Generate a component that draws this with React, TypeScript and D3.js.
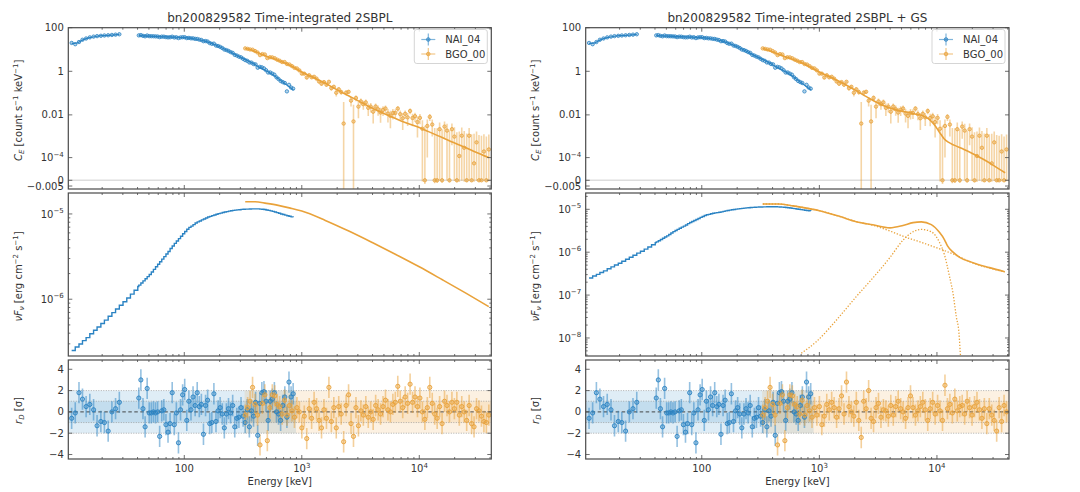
import React from "react";
import * as d3 from "d3";

// ---------------- data ----------------
const X_DOMAIN: [number, number] = [10.3, 41000];
const NAI_RANGE: [number, number] = [10.3, 893];
const BGO_RANGE: [number, number] = [326, 41000];

// NaI channel energies (keV)
const NAI_E_LOW = [11.0, 11.8, 12.7, 13.6, 14.6, 15.7, 16.9, 18.1, 19.5, 20.9, 22.5, 24.2, 26.0, 28.0];
const NAI_GAP_E = [30.1, 32.4, 34.8, 37.4, 40.2];
const NAI_E_HIGH = [41.0, 42.7, 44.5, 46.4, 48.3, 50.3, 52.4, 54.6, 56.9, 59.3, 61.7, 64.3, 67.0, 69.8, 72.7, 75.7, 78.9, 82.2, 85.6, 89.2, 92.9, 96.8, 100.8, 105.0, 109.4, 114.0, 118.7, 123.7, 128.8, 134.2, 139.8, 145.6, 151.7, 158.0, 164.6, 171.5, 178.6, 186.1, 193.8, 201.9, 210.4, 219.1, 228.3, 237.8, 247.7, 258.1, 268.8, 280.0, 291.7, 303.9, 316.6, 329.8, 343.5, 357.9, 372.8, 388.3, 404.5, 421.4, 439.0, 457.3, 476.4, 496.3, 517.0, 538.5, 561.0, 584.4, 608.8, 634.1, 660.6, 688.2, 716.9, 746.8, 777.9, 810.4, 844.2];

// NaI count rates (count s^-1 keV^-1)
const NAI_COUNTS_LOW = [20, 17.5, 22, 28, 32, 36, 39, 41, 42.5, 44, 45, 46.5, 48, 50];
const NAI_COUNTS_HIGH = [44.4, 45.7, 42.3, 40.3, 43.8, 40.9, 40.7, 40.5, 39.9, 39.5, 37.0, 38.9, 38.7, 36.9, 36.0, 36.5, 38.7, 35.7, 36.4, 33.4, 35.8, 36.6, 36.6, 33.3, 34.0, 32.5, 32.5, 30.8, 30.5, 28.4, 27.3, 24.0, 24.4, 23.2, 19.7, 18.2, 18.6, 15.2, 14.5, 13.2, 11.7, 10.0, 9.4, 8.6, 7.6, 7.0, 5.66, 5.27, 4.7, 4.37, 3.74, 3.26, 3.02, 2.55, 2.51, 2.16, 2.07, 1.46, 1.6, 1.52, 1.36, 1.12, 0.88, 0.88, 0.78, 0.7, 0.53, 0.44, 0.36, 0.32, 0.29, 0.12, 0.24, 0.18, 0.16];

// NaI residuals (sigma), shared by both fits
const NAI_RESID_LOW = [-0.6, -0.1, 1.8, 1.2, 0.5, 0.7, 0.2, -1.3, -0.9, -1.0, -1.8, 0.0, 0.3, 0.9];
const NAI_RESID_HIGH = [1.3, 3.0, 0.3, -1.4, 2.2, -0.1, -0.1, 0.0, -0.1, 0.0, -2.3, 0.1, 0.2, -1.2, -1.9, -1.1, 1.8, -1.2, -0.1, -2.9, 0.2, 1.6, 2.1, -0.8, 1.0, 0.2, 1.4, 0.6, 1.8, 0.5, 0.7, -2.1, 0.6, 1.1, -1.1, -1.0, 1.7, -0.9, 0.1, 0.4, -0.2, -1.5, -0.2, 0.3, -0.1, 0.6, -1.4, -0.6, -0.5, 0.4, -0.4, -1.0, 0.2, -1.4, 0.1, -0.4, 0.9, -2.2, 0.8, 1.8, 1.9, 1.0, -0.8, 1.0, 1.2, 1.8, 0.0, -0.2, -0.8, 0.6, 1.4, -0.5, 2.8, 1.4, 1.7];

// NaI folded model count rates
const NAI_MODEL_E_LOW = [11, 12, 13.6, 15.7, 18.1, 20.9, 24.2, 28];
const NAI_MODEL_C_LOW = [19, 19.5, 27, 35, 40.5, 43.5, 46, 49.5];
const NAI_MODEL_E_HIGH = [41, 50, 60, 80, 100, 120, 150, 200, 250, 300, 365, 450, 520, 600, 700, 850];
const NAI_MODEL_C_HIGH = [43, 41, 39.3, 37, 34.8, 31.2, 24.2, 13.3, 7.4, 4.45, 2.67, 1.4, 0.92, 0.56, 0.3, 0.14];

// BGO channel energies (keV)
const BGO_E = [330, 346, 363, 381, 400, 420, 441, 462, 485, 509, 535, 561, 589, 618, 648, 680, 714, 749, 786, 825, 866, 909, 953, 1001, 1050, 1102, 1156, 1213, 1273, 1336, 1402, 1472, 1544, 1621, 1701, 1785, 1873, 1965, 2062, 2164, 2271, 2383, 2501, 2625, 2754, 2890, 3033, 3183, 3340, 3505, 3678, 3860, 4051, 4251, 4461, 4681, 4913, 5155, 5410, 5677, 5958, 6252, 6561, 6885, 7225, 7582, 7956, 8350, 8762, 9195, 9649, 10126, 10626, 11151, 11702, 12280, 12886, 13523, 14191, 14892, 15628, 16400, 17210, 18060, 18952, 19888, 20871, 21902, 22984, 24119, 25311, 26561, 27873, 29250, 30695, 32212, 33803, 35473, 37225, 39064];
const BGO_COUNTS = [11.25, 10.7, 10.05, 9.77, 8.48, 7.29, 5.52, 6.16, 5.9, 4.02, 4.41, 4.35, 3.95, 3.4, 3.05, 2.66, 2.65, 2.15, 2.04, 1.73, 1.44, 1.35, 1.1, 0.78, 0.78, 0.52, 0.66, 0.53, 0.56, 0.46, 0.34, 0.27, 0.32, 0.243, 0.33, 0.169, 0.195, 0.104, 0.15, 0.112, 0.004, 0.105, 0.115, 0.045, 0.005, 0.06, 0.024, 0.0415, 0.031, 0.0375, 0.021, 0.024, 0.014, 0.0242, 0.0181, 0.0128, 0.017, 0.0196, 0.0115, 0.009, 0.0123, 0.0123, 0.0195, 0.0108, 0.007, 0.0112, 0.0077, 0.0151, 0.0072, 0.0087, 0.0047, 0.0073, 0.0023, 0, 0.0031, 0.0081, 0.0036, 0, 0, 0.0022, 0, 0.0029, 0.0019, 0, 0.0022, 0.001, 0, 0.00012, 0.0011, 0.0003, 0, 0.0011, 0, 0.00005, 0.00054, 0, 0, 0.0002, 0, 0.00025];
const BGO_COUNT_ERR = [0.5, 0.48, 0.45, 0.42, 0.4, 0.38, 0.35, 0.33, 0.31, 0.29, 0.27, 0.25, 0.23, 0.21, 0.2, 0.19, 0.18, 0.16, 0.15, 0.14, 0.13, 0.12, 0.11, 0.1, 0.09, 0.085, 0.08, 0.075, 0.07, 0.065, 0.06, 0.055, 0.05, 0.045, 0.042, 0.04, 0.037, 0.034, 0.031, 0.029, 0.035, 0.025, 0.023, 0.021, 0.024, 0.018, 0.017, 0.015, 0.014, 0.013, 0.012, 0.011, 0.01, 0.0095, 0.009, 0.0085, 0.008, 0.0075, 0.007, 0.0066, 0.0062, 0.0058, 0.0055, 0.0052, 0.005, 0.0048, 0.0046, 0.0044, 0.0042, 0.004, 0.0038, 0.0036, 0.0034, 0.0032, 0.003, 0.0028, 0.0026, 0.0025, 0.0024, 0.0023, 0.0022, 0.0021, 0.002, 0.0019, 0.0018, 0.0017, 0.0016, 0.0016, 0.0015, 0.0015, 0.0014, 0.0014, 0.0013, 0.0013, 0.0012, 0.0012, 0.0011, 0.0011, 0.001, 0.001];

// BGO residuals for each fit
const BGO_RESID_2SBPL = [-0.3, 0.4, 1.0, 2.3, 0.7, -0.3, -3.1, 0.8, 1.6, -2.7, 0.4, 1.6, 1.5, 0.7, 0.5, -0.2, 1.1, -0.3, 0.6, 0.1, -0.5, 0.4, 0.0, -1.5, -0.4, -2.5, 0.3, -0.6, 0.9, 0.3, -0.8, -1.5, 0.2, -0.6, 2.3, -0.9, 0.4, -1.5, 0.5, -0.2, -2.8, 0.6, 1.6, -1.1, -2.3, 0.4, -1.3, 0.1, -0.3, 0.5, -0.5, 0.0, -0.7, 0.6, 0.2, -0.2, 0.5, 1.1, 0.2, 0.0, 0.7, 0.9, 2.4, 1.0, 0.4, 1.4, 0.8, 2.6, 0.9, 1.4, 0.5, 1.3, 0.0, -0.7, 0.4, 2.3, 0.8, -0.2, -0.6, 0.5, -1.1, 1.0, 0.6, 0.0, 0.9, 0.3, 0.9, -0.3, 0.5, 0.0, -0.8, 0.6, -1.1, -1.4, 0.3, 0.1, -0.4, -0.9, -1.0, -0.3];
const BGO_RESID_GS = [-0.3, 0.4, 1.0, 2.3, 0.7, -0.3, -3.1, 0.8, 1.6, -2.7, 0.4, 1.6, 1.5, 0.7, 0.5, -0.2, 1.1, -0.3, 0.6, 0.1, -0.5, 0.4, -0.3, 0.5, -1.2, -0.4, 0.7, 0.2, 0.9, 0.4, -0.5, 0.3, 1.5, -0.2, 2.8, 0.5, 0.0, -0.4, 0.9, -0.8, -2.4, 1.0, 0.3, 2.0, -0.6, -0.9, 0.4, 0.8, -0.5, 0.2, 0.1, -0.4, 0.6, -0.3, 0.5, 1.0, 0.3, 0.0, -0.6, 0.4, 1.5, 0.4, -0.3, 0.1, 0.5, 0.9, 0.2, -0.8, 0.3, 0.9, -0.2, 0.6, 0.1, -0.8, 2.5, 0.3, 0.7, -0.1, 1.2, 0.1, 0.5, 0.6, -0.2, 1.0, 0.4, -0.3, 0.5, 0.9, 0.2, -0.6, 0.3, -1.1, 0.3, -0.3, -0.8, -1.8, 0.4, -0.9, 0.6, 0.0];

// BGO folded model count rates
const BGO_MODEL_2SBPL_E = [330, 400, 500, 600, 700, 800, 1000, 1200, 1500, 2000, 2500, 3000, 4000, 5000, 6000, 7000, 8000, 10000, 12000, 15000, 20000, 25000, 30000, 39000];
const BGO_MODEL_2SBPL_C = [11.4, 8.2, 4.9, 3.5, 2.55, 1.85, 0.93, 0.58, 0.33, 0.14, 0.075, 0.045, 0.02, 0.0115, 0.0075, 0.0053, 0.004, 0.0026, 0.0017, 0.001, 0.0005, 0.0003, 0.00019, 0.0001];
const BGO_MODEL_GS_E = [330, 500, 700, 1000, 1500, 2000, 2700, 3500, 4500, 5500, 6500, 7500, 8500, 9500, 10500, 11500, 12500, 14000, 17000, 20000, 25000, 30000, 38000];
const BGO_MODEL_GS_C = [11.4, 4.9, 2.55, 0.93, 0.33, 0.14, 0.055, 0.027, 0.017, 0.0135, 0.011, 0.0092, 0.0065, 0.0035, 0.0016, 0.0008, 0.00055, 0.0004, 0.00025, 0.00016, 0.00008, 0.00004, 0.000012];

// nuFnu model spectra (erg cm^-2 s^-1), NaI on channel grid (low + gap + high)
const NAI_NUFNU_2SBPL = [2.51e-7, 2.75e-7, 2.99e-7, 3.27e-7, 3.55e-7, 3.94e-7, 4.32e-7, 4.73e-7, 5.19e-7, 5.69e-7, 6.31e-7, 6.97e-7, 7.67e-7, 8.51e-7,
  9.33e-7, 1.035e-6, 1.148e-6, 1.274e-6, 1.413e-6,
  1.462e-6, 1.549e-6, 1.641e-6, 1.738e-6, 1.841e-6, 1.95e-6, 2.089e-6, 2.239e-6, 2.399e-6, 2.57e-6,
  2.754e-6, 2.951e-6, 3.162e-6, 3.388e-6, 3.631e-6, 3.936e-6, 4.217e-6, 4.519e-6, 4.808e-6, 5.129e-6,
  5.47e-6, 5.848e-6, 6.223e-6, 6.607e-6, 6.95e-6, 7.194e-6, 7.499e-6, 7.816e-6, 8.072e-6, 8.279e-6,
  8.511e-6, 8.73e-6, 8.954e-6, 9.204e-6, 9.376e-6, 9.55e-6, 9.727e-6, 9.908e-6, 1.009e-5, 1.023e-5,
  1.038e-5, 1.052e-5, 1.064e-5, 1.079e-5, 1.091e-5, 1.102e-5, 1.109e-5, 1.117e-5, 1.122e-5, 1.13e-5,
  1.135e-5, 1.138e-5, 1.14e-5, 1.143e-5, 1.146e-5, 1.148e-5, 1.148e-5, 1.146e-5, 1.14e-5, 1.135e-5,
  1.127e-5, 1.114e-5, 1.102e-5, 1.086e-5, 1.072e-5, 1.054e-5, 1.035e-5, 1.019e-5, 1.0e-5, 9.84e-6,
  9.68e-6, 9.53e-6, 9.38e-6, 9.23e-6, 9.12e-6];
const NAI_NUFNU_GS = [2.51e-7, 2.78e-7, 3.04e-7, 3.35e-7, 3.67e-7, 4.11e-7, 4.54e-7, 5.01e-7, 5.54e-7, 6.13e-7, 6.85e-7, 7.64e-7, 8.49e-7, 9.49e-7,
  1.05e-6, 1.18e-6, 1.32e-6, 1.49e-6, 1.67e-6,
  1.738e-6, 1.854e-6, 1.977e-6, 2.113e-6, 2.255e-6, 2.405e-6, 2.594e-6, 2.799e-6, 3.02e-6, 3.213e-6,
  3.412e-6, 3.615e-6, 3.836e-6, 4.062e-6, 4.317e-6, 4.625e-6, 4.909e-6, 5.201e-6, 5.481e-6, 5.78e-6,
  6.11e-6, 6.474e-6, 6.82e-6, 7.162e-6, 7.45e-6, 7.618e-6, 7.851e-6, 8.09e-6, 8.258e-6, 8.378e-6,
  8.511e-6, 8.73e-6, 8.954e-6, 9.204e-6, 9.376e-6, 9.55e-6, 9.727e-6, 9.908e-6, 1.009e-5, 1.023e-5,
  1.038e-5, 1.052e-5, 1.064e-5, 1.079e-5, 1.091e-5, 1.102e-5, 1.109e-5, 1.117e-5, 1.122e-5, 1.13e-5,
  1.135e-5, 1.138e-5, 1.14e-5, 1.143e-5, 1.146e-5, 1.148e-5, 1.148e-5, 1.146e-5, 1.14e-5, 1.135e-5,
  1.127e-5, 1.114e-5, 1.102e-5, 1.086e-5, 1.072e-5, 1.054e-5, 1.035e-5, 1.019e-5, 1.0e-5, 9.84e-6,
  9.68e-6, 9.53e-6, 9.38e-6, 9.23e-6, 9.12e-6];

const BGO_NUFNU_2SBPL_E = [330, 400, 500, 630, 800, 1000, 1585, 2512, 3981, 6310, 10000, 15850, 25120, 39000];
const BGO_NUFNU_2SBPL = [1.39e-5, 1.39e-5, 1.33e-5, 1.26e-5, 1.17e-5, 1.08e-5, 8.4e-6, 6.3e-6, 4.62e-6, 3.35e-6, 2.4e-6, 1.68e-6, 1.17e-6, 8.2e-7];

const BGO_NUFNU_TOTAL_E = [330, 450, 600, 800, 1000, 1500, 2060, 2850, 3980, 5140, 6260, 7370, 8950, 10500, 11600, 12300, 13700, 15600, 20200, 28000, 37700];
const BGO_NUFNU_TOTAL = [1.33e-5, 1.33e-5, 1.2e-5, 1.05e-5, 9.27e-6, 6.76e-6, 5.14e-6, 4.35e-6, 3.7e-6, 4.2e-6, 4.9e-6, 5.1e-6, 4.4e-6, 2.9e-6, 1.95e-6, 1.4e-6, 1.0e-6, 7.6e-7, 5.69e-7, 4.37e-7, 3.5e-7];
const BGO_NUFNU_SBPL_COMP_E = [330, 450, 600, 800, 1000, 1500, 2060, 2850, 4000, 5500, 7370, 10000, 13700, 20000, 37700];
const BGO_NUFNU_SBPL_COMP = [1.33e-5, 1.33e-5, 1.2e-5, 1.05e-5, 9.27e-6, 6.76e-6, 5.14e-6, 4.27e-6, 3.1e-6, 2.2e-6, 1.7e-6, 1.26e-6, 9.1e-7, 5.69e-7, 3.5e-7];
const BGO_NUFNU_GS_COMP_E = [702, 942, 1480, 2060, 2850, 3980, 5140, 6260, 7370, 8950, 10500, 11600, 12800, 13700, 14600, 15400, 15800, 16500];
const BGO_NUFNU_GS_COMP = [4.4e-9, 8.2e-9, 3.14e-8, 9.2e-8, 2.5e-7, 7.5e-7, 1.9e-6, 3.0e-6, 3.4e-6, 3.0e-6, 1.7e-6, 8.6e-7, 2.69e-7, 1.1e-7, 3.14e-8, 1.29e-8, 4.4e-9, 1e-9];

const DETECTORS = ["NAI_04", "BGO_00"];
const TITLES = ["bn200829582 Time-integrated 2SBPL", "bn200829582 Time-integrated 2SBPL + GS"];

// ---------------- style / layout ----------------
const FONT = "'DejaVu Sans', Verdana, sans-serif";
const C_NAI = "#2b83c3";
const C_BGO = "#e9a23a";
const AX = "#4a4a4a";
const TXT = "#333333";
const ROW_TOP: [number, number] = [27.7, 189];
const ROW_MID: [number, number] = [193, 356];
const ROW_RES: [number, number] = [360, 459];

const isPow10 = (v: number) => Math.abs(Math.log10(v) - Math.round(Math.log10(v))) < 1e-9;
const zip = (a: number[], b: number[]) => a.map((v, i) => [v, b[i]] as [number, number]);

type ColCfg = {
  id: number;
  x0: number;
  x1: number;
  title: string;
  nuDomain: [number, number];
  naiNu: number[];
  bgoNu: { e: number[]; v: number[]; dotted?: boolean }[];
  bgoModel: { e: number[]; v: number[] };
  bgoResid: number[];
};

const COLS: ColCfg[] = [
  {
    id: 0, x0: 68.3, x1: 491.3, title: TITLES[0], nuDomain: [2.16e-7, 1.76e-5], naiNu: NAI_NUFNU_2SBPL,
    bgoNu: [{ e: BGO_NUFNU_2SBPL_E, v: BGO_NUFNU_2SBPL }],
    bgoModel: { e: BGO_MODEL_2SBPL_E, v: BGO_MODEL_2SBPL_C }, bgoResid: BGO_RESID_2SBPL,
  },
  {
    id: 1, x0: 585.7, x1: 1009, title: TITLES[1], nuDomain: [3.8e-9, 2.4e-5], naiNu: NAI_NUFNU_GS,
    bgoNu: [
      { e: BGO_NUFNU_SBPL_COMP_E, v: BGO_NUFNU_SBPL_COMP, dotted: true },
      { e: BGO_NUFNU_GS_COMP_E, v: BGO_NUFNU_GS_COMP, dotted: true },
      { e: BGO_NUFNU_TOTAL_E, v: BGO_NUFNU_TOTAL },
    ],
    bgoModel: { e: BGO_MODEL_GS_E, v: BGO_MODEL_GS_C }, bgoResid: BGO_RESID_GS,
  },
];

function PowLabel({ x, y, anchor, exp, size = 10 }: { x: number; y: number; anchor: string; exp: string; size?: number }) {
  return (
    <text x={x} y={y} textAnchor={anchor as any} fontSize={size} fill={TXT} fontFamily={FONT}>
      10<tspan dy={-4.5} fontSize={size * 0.7}>{exp}</tspan>
    </text>
  );
}

function Column({ cfg }: { cfg: ColCfg }) {
  const { x0, x1, id } = cfg;
  const x = d3.scaleLog().domain(X_DOMAIN).range([x0, x1]);
  const yPos = d3.scaleSymlog().constant(1e-5).domain([0, 100]).range([180.3, ROW_TOP[0]]);
  const yNeg = d3.scaleLinear().domain([-0.0076, 0]).range([ROW_TOP[1], 180.3]).clamp(true);
  const yC = (v: number) => (v >= 0 ? yPos(v) : yNeg(v));
  const yN = d3.scaleLog().domain(cfg.nuDomain).range([ROW_MID[1], ROW_MID[0]]);
  const yR = d3.scaleLinear().domain([-4.42, 4.87]).range([ROW_RES[1], ROW_RES[0]]);

  const xTicks = x.ticks().filter((t) => t >= X_DOMAIN[0] && t <= X_DOMAIN[1]);
  const naiE = [...NAI_E_LOW, ...NAI_E_HIGH];
  const naiC = [...NAI_COUNTS_LOW, ...NAI_COUNTS_HIGH];
  const naiR = [...NAI_RESID_LOW, ...NAI_RESID_HIGH];
  const naiModelE = [...NAI_E_LOW, ...NAI_GAP_E, ...NAI_E_HIGH];

  const lineC = d3.line<[number, number]>().x((d) => x(d[0])).y((d) => yC(d[1])).curve(d3.curveMonotoneX);
  const lineNStep = d3.line<[number, number]>().x((d) => x(d[0])).y((d) => yN(d[1])).curve(d3.curveStepAfter);
  const lineN = d3.line<[number, number]>().x((d) => x(d[0])).y((d) => yN(d[1])).curve(d3.curveMonotoneX);

  const rows = [ROW_TOP, ROW_MID, ROW_RES];
  const clip = (r: number) => `url(#clip-${id}-${r})`;

  const xTickMarks = (row: [number, number], key: string) =>
    xTicks.map((t, i) => {
      const len = isPow10(t) ? 4 : 2;
      const px = x(t);
      return (
        <g key={key + i}>
          <line x1={px} x2={px} y1={row[0]} y2={row[0] + len} stroke={AX} strokeWidth={0.8} />
          <line x1={px} x2={px} y1={row[1]} y2={row[1] - len} stroke={AX} strokeWidth={0.8} />
        </g>
      );
    });
  const yTickMarks = (ys: number[], len: number, key: string) =>
    ys.map((py, i) => (
      <g key={key + i}>
        <line x1={x0} x2={x0 + len} y1={py} y2={py} stroke={AX} strokeWidth={0.8} />
        <line x1={x1} x2={x1 - len} y1={py} y2={py} stroke={AX} strokeWidth={0.8} />
      </g>
    ));

  // top panel ticks
  const topMajor: { v: number; label: string; pow?: string }[] = [
    { v: 100, label: "100" }, { v: 1, label: "1" }, { v: 0.01, label: "0.01" },
    { v: 1e-4, label: "", pow: "\u22124" }, { v: 0, label: "0" }, { v: -0.005, label: "\u22120.005" },
  ];
  const nuTicks = yN.ticks().filter((t) => t >= cfg.nuDomain[0] && t <= cfg.nuDomain[1]);
  const nuMajor = nuTicks.filter(isPow10);
  const nuMinor = nuTicks.filter((t) => !isPow10(t));
  const resTicks = [4, 2, 0, -2, -4];

  const labX = x0 - 46.5;
  const legX = x1 - 77;

  return (
    <g>
      <defs>
        {rows.map((r, i) => (
          <clipPath id={`clip-${id}-${i}`} key={i}>
            <rect x={x0} y={r[0]} width={x1 - x0} height={r[1] - r[0]} />
          </clipPath>
        ))}
      </defs>

      {/* title */}
      <text x={(x0 + x1) / 2} y={22} textAnchor="middle" fontSize={12} fill={TXT} fontFamily={FONT}>{cfg.title}</text>

      {/* ---------- top: count spectra ---------- */}
      <g clipPath={clip(0)}>
        <line x1={x0} x2={x1} y1={yC(0)} y2={yC(0)} stroke="#dddddd" strokeWidth={1.6} />
        <path d={lineC(zip(NAI_MODEL_E_LOW, NAI_MODEL_C_LOW)) || ""} fill="none" stroke={C_NAI} strokeWidth={1.2} />
        <path d={lineC(zip(NAI_MODEL_E_HIGH, NAI_MODEL_C_HIGH)) || ""} fill="none" stroke={C_NAI} strokeWidth={1.2} />
        <path d={lineC(zip(cfg.bgoModel.e, cfg.bgoModel.v)) || ""} fill="none" stroke={C_BGO} strokeWidth={1.6} />
        {BGO_E.map((e, i) => (
          <line key={"be" + i} x1={x(e)} x2={x(e)} y1={yC(BGO_COUNTS[i] - BGO_COUNT_ERR[i])} y2={yC(BGO_COUNTS[i] + BGO_COUNT_ERR[i])}
            stroke={C_BGO} strokeOpacity={0.45} strokeWidth={1.6} />
        ))}
        {naiE.map((e, i) => (
          <circle key={"nc" + i} cx={x(e)} cy={yC(naiC[i])} r={1.7} fill={C_NAI} fillOpacity={0.35} stroke={C_NAI} strokeWidth={0.8} />
        ))}
        {BGO_E.map((e, i) => (
          <circle key={"bc" + i} cx={x(e)} cy={yC(BGO_COUNTS[i])} r={1.7} fill={C_BGO} fillOpacity={0.4} stroke={C_BGO} strokeWidth={0.8} />
        ))}
      </g>

      {/* ---------- middle: nuFnu ---------- */}
      <g clipPath={clip(1)}>
        <path d={lineNStep(zip(naiModelE, cfg.naiNu)) || ""} fill="none" stroke={C_NAI} strokeWidth={1.4} />
        {cfg.bgoNu.map((s, i) => (
          <path key={"bn" + i} d={lineN(zip(s.e, s.v)) || ""} fill="none" stroke={C_BGO}
            strokeWidth={s.dotted ? 1.3 : 1.6} strokeDasharray={s.dotted ? "1.3 1.7" : undefined} />
        ))}
      </g>

      {/* ---------- bottom: residuals ---------- */}
      <g clipPath={clip(2)}>
        {[{ r: NAI_RANGE, c: C_NAI }, { r: BGO_RANGE, c: C_BGO }].map((b, i) => (
          <g key={"band" + i}>
            <rect x={x(b.r[0])} width={x(b.r[1]) - x(b.r[0])} y={yR(2)} height={yR(-2) - yR(2)} fill={b.c} fillOpacity={0.15} />
            <rect x={x(b.r[0])} width={x(b.r[1]) - x(b.r[0])} y={yR(1)} height={yR(-1) - yR(1)} fill={b.c} fillOpacity={0.15} />
          </g>
        ))}
        {[-2, -1, 1, 2].map((v) => (
          <line key={"dl" + v} x1={x0} x2={x1} y1={yR(v)} y2={yR(v)} stroke="#999999" strokeWidth={0.8} strokeDasharray="1 1.5" />
        ))}
        <line x1={x0} x2={x1} y1={yR(0)} y2={yR(0)} stroke="#333333" strokeWidth={0.9} strokeDasharray="3.5 2.5" />
        {naiE.map((e, i) => (
          <line key={"nre" + i} x1={x(e)} x2={x(e)} y1={yR(naiR[i] - 1)} y2={yR(naiR[i] + 1)} stroke={C_NAI} strokeOpacity={0.5} strokeWidth={1.6} />
        ))}
        {BGO_E.map((e, i) => (
          <line key={"bre" + i} x1={x(e)} x2={x(e)} y1={yR(cfg.bgoResid[i] - 1)} y2={yR(cfg.bgoResid[i] + 1)} stroke={C_BGO} strokeOpacity={0.5} strokeWidth={1.6} />
        ))}
        {naiE.map((e, i) => (
          <circle key={"nr" + i} cx={x(e)} cy={yR(naiR[i])} r={2.1} fill={C_NAI} fillOpacity={0.35} stroke={C_NAI} strokeWidth={0.9} />
        ))}
        {BGO_E.map((e, i) => (
          <circle key={"br" + i} cx={x(e)} cy={yR(cfg.bgoResid[i])} r={2.1} fill={C_BGO} fillOpacity={0.35} stroke={C_BGO} strokeWidth={0.9} />
        ))}
      </g>

      {/* ---------- frames and ticks ---------- */}
      {rows.map((r, i) => (
        <g key={"fr" + i}>
          {xTickMarks(r, "xt" + i)}
          <rect x={x0} y={r[0]} width={x1 - x0} height={r[1] - r[0]} fill="none" stroke={AX} strokeWidth={1.2} />
        </g>
      ))}
      {yTickMarks(topMajor.map((t) => yC(t.v)), 4, "ty")}
      {yTickMarks(nuMajor.map((t) => yN(t)), 4, "nyM")}
      {yTickMarks(nuMinor.map((t) => yN(t)), 2, "nym")}
      {yTickMarks(resTicks.map((t) => yR(t)), 4, "ry")}

      {/* y tick labels */}
      {topMajor.map((t, i) =>
        t.pow ? (
          <PowLabel key={"tl" + i} x={x0 - 4.5} y={yC(t.v) + 3.6} anchor="end" exp={t.pow} />
        ) : (
          <text key={"tl" + i} x={x0 - 4.5} y={yC(t.v) + 3.6} textAnchor="end" fontSize={10} fill={TXT} fontFamily={FONT}>{t.label}</text>
        )
      )}
      {nuMajor.map((t, i) => (
        <PowLabel key={"nl" + i} x={x0 - 4.5} y={yN(t) + 3.6} anchor="end" exp={"\u2212" + Math.abs(Math.round(Math.log10(t)))} />
      ))}
      {resTicks.map((t, i) => (
        <text key={"rl" + i} x={x0 - 4.5} y={yR(t) + 3.6} textAnchor="end" fontSize={10} fill={TXT} fontFamily={FONT}>
          {t < 0 ? "\u2212" + Math.abs(t) : String(t)}
        </text>
      ))}

      {/* x tick labels */}
      {xTicks.filter(isPow10).map((t, i) =>
        t === 100 ? (
          <text key={"xl" + i} x={x(t)} y={ROW_RES[1] + 13} textAnchor="middle" fontSize={10} fill={TXT} fontFamily={FONT}>100</text>
        ) : (
          <PowLabel key={"xl" + i} x={x(t)} y={ROW_RES[1] + 13} anchor="middle" exp={String(Math.round(Math.log10(t)))} />
        )
      )}
      <text x={(x0 + x1) / 2} y={485} textAnchor="middle" fontSize={10} fill={TXT} fontFamily={FONT}>Energy [keV]</text>

      {/* y axis labels */}
      <text transform={`translate(${labX},${(ROW_TOP[0] + ROW_TOP[1]) / 2 + 2}) rotate(-90)`} textAnchor="middle" fontSize={10} fill={TXT} fontFamily={FONT}>
        <tspan fontStyle="italic">C</tspan><tspan fontStyle="italic" fontSize={7} dy={2}>E</tspan>
        <tspan dy={-2}> [count s</tspan><tspan fontSize={7} dy={-4}>{"\u22121"}</tspan>
        <tspan dy={4}> keV</tspan><tspan fontSize={7} dy={-4}>{"\u22121"}</tspan><tspan dy={4}>]</tspan>
      </text>
      <text transform={`translate(${labX},${(ROW_MID[0] + ROW_MID[1]) / 2 + 2}) rotate(-90)`} textAnchor="middle" fontSize={10} fill={TXT} fontFamily={FONT}>
        <tspan fontStyle="italic">{"\u03bdF"}</tspan><tspan fontStyle="italic" fontSize={7} dy={2}>{"\u03bd"}</tspan>
        <tspan dy={-2}> [erg cm</tspan><tspan fontSize={7} dy={-4}>{"\u22122"}</tspan>
        <tspan dy={4}> s</tspan><tspan fontSize={7} dy={-4}>{"\u22121"}</tspan><tspan dy={4}>]</tspan>
      </text>
      <text transform={`translate(${labX},${(ROW_RES[0] + ROW_RES[1]) / 2 + 1}) rotate(-90)`} textAnchor="middle" fontSize={10} fill={TXT} fontFamily={FONT}>
        <tspan fontStyle="italic">r</tspan><tspan fontStyle="italic" fontSize={7} dy={2}>D</tspan>
        <tspan dy={-2}> [{"\u03c3"}]</tspan>
      </text>

      {/* legend */}
      <g>
        <rect x={legX} y={29.5} width={73} height={34} rx={2.5} fill="#ffffff" fillOpacity={0.85} stroke="#d0d0d0" strokeWidth={0.9} />
        {DETECTORS.map((d, i) => {
          const c = i === 0 ? C_NAI : C_BGO;
          const my = 39.5 + i * 14.5;
          const mx = legX + 14;
          return (
            <g key={d}>
              <line x1={mx - 7} x2={mx + 7} y1={my} y2={my} stroke={c} strokeOpacity={0.6} strokeWidth={1.2} />
              <line x1={mx} x2={mx} y1={my - 6} y2={my + 6} stroke={c} strokeOpacity={0.6} strokeWidth={1.2} />
              <circle cx={mx} cy={my} r={1.8} fill={c} fillOpacity={0.4} stroke={c} strokeWidth={0.8} />
              <text x={legX + 31} y={my + 3.6} fontSize={10} fill={TXT} fontFamily={FONT}>{d}</text>
            </g>
          );
        })}
      </g>
    </g>
  );
}

export default function App() {
  return (
    <svg width={1080} height={492} viewBox="0 0 1080 492" style={{ position: "absolute", left: 0, top: 0, background: "#ffffff" }}
      xmlns="http://www.w3.org/2000/svg">
      <rect x={0} y={0} width={1080} height={492} fill="#ffffff" />
      {COLS.map((c) => (
        <Column key={c.id} cfg={c} />
      ))}
    </svg>
  );
}
